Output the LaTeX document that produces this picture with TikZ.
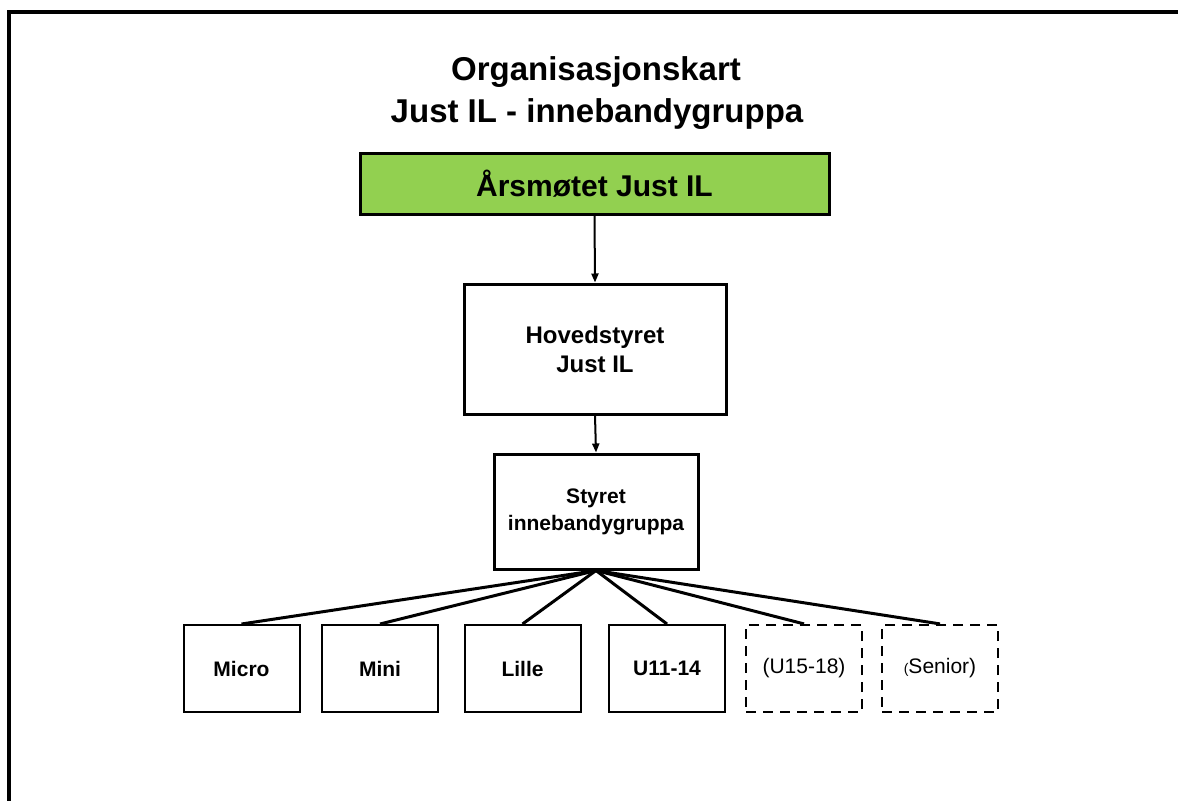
\documentclass[tikz,border=0pt]{standalone}
\usepackage{fontspec}
\setmainfont{Liberation Sans}
\usetikzlibrary{arrows.meta}
\definecolor{boxgreen}{HTML}{92D050}
\tikzset{
  px/.style={x=1pt,y=-1pt},
  titletext/.style={font=\fontsize{33}{42}\selectfont\bfseries, anchor=base, inner sep=0pt},
  orgbox/.style={draw=black, line width=3pt, inner sep=0pt, align=center, font=\bfseries},
  teambox/.style={draw=black, line width=2pt, minimum width=116pt, minimum height=87pt, inner sep=0pt, font=\fontsize{21}{25}\selectfont\bfseries},
  optbox/.style={draw=black, line width=2.2pt, dash pattern=on 10pt off 7pt, minimum width=116pt, minimum height=87pt, inner sep=0pt, font=\fontsize{21}{25}\selectfont},
  arrowline/.style={line width=2pt, -{Triangle[length=9pt,width=7pt]}},
  fanline/.style={line width=3pt},
  frameline/.style={line width=4pt}
}
\begin{document}
\begin{tikzpicture}[px]
\useasboundingbox (0,0) rectangle (1178,801);
\fill[white] (0,0) rectangle (1178,801);
% outer frame (top and left edges only)
\coordinate (ftl) at (9,12);
\coordinate (ftr) at (1178,12);
\coordinate (fbl) at (9,801);
\draw[frameline] (ftr) -- (ftl) -- (fbl);
% title
\node[titletext] (title1) at (596,80) {Organisasjonskart};
\node[titletext] (title2) at (597,122) {Just IL - innebandygruppa};
% main boxes
\node[orgbox, fill=boxgreen, minimum width=469pt, minimum height=61pt, font=\fontsize{30}{34}\selectfont\bfseries] (aarsmote) at (594.5,183.5) {Årsmøtet Just IL};
\node[orgbox, minimum width=262pt, minimum height=130pt, font=\fontsize{24}{29}\selectfont\bfseries] (hoved) at (595,349) {Hovedstyret\\Just IL};
\node[orgbox, minimum width=204pt, minimum height=115pt, font=\fontsize{21}{27}\selectfont\bfseries] (styret) at (596,511.5) {Styret\\innebandygruppa};
% team boxes
\node[teambox] (micro) at (241.5,668.5) {Micro};
\node[teambox] (mini) at (380,668.5) {Mini};
\node[teambox] (lille) at (522.5,668.5) {Lille};
\node[teambox] (u11) at (667,668.5) {U11-14};
\node[optbox] (u15) at (804,668.5) {(U15-18)};
\node[optbox] (senior) at (940,668.5) {{\fontsize{14}{16}\selectfont(}Senior)};
% arrows
\draw[arrowline] (aarsmote.south) -- (hoved.north);
\draw[arrowline] (hoved.south) -- (styret.north);
% fan lines
\foreach \t in {micro,mini,lille,u11,u15,senior}
  \draw[fanline] (styret.south) -- (\t.north);
\end{tikzpicture}
\end{document}
